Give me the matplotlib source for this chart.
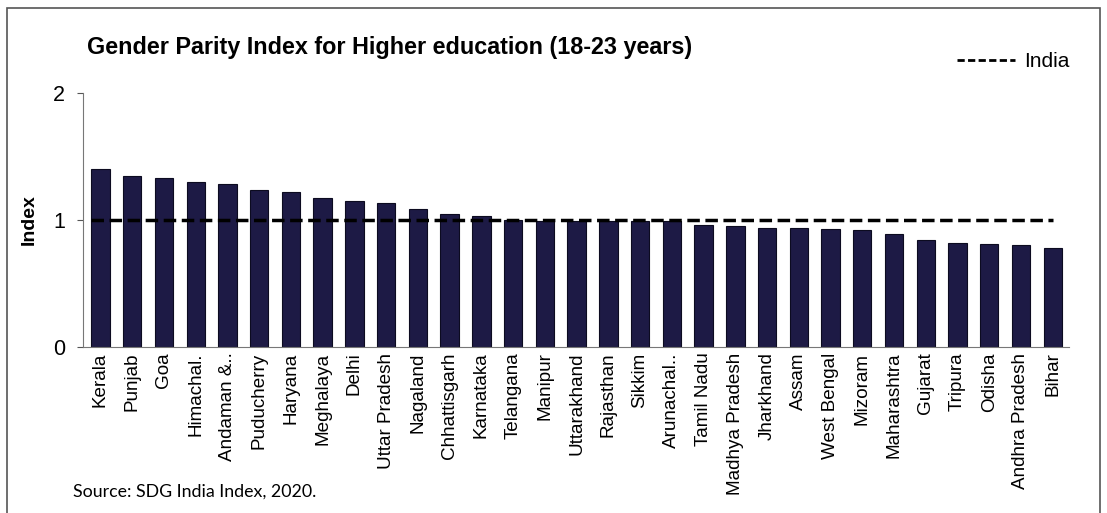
import matplotlib
matplotlib.use("Agg")
import matplotlib.pyplot as plt
from matplotlib.lines import Line2D
from matplotlib.patches import Rectangle

# =====================================================================
# 数据
# =====================================================================

states = [
    "Kerala", "Punjab", "Goa", "Himachal.", "Andaman &..", "Puducherry",
    "Haryana", "Meghalaya", "Delhi", "Uttar Pradesh", "Nagaland",
    "Chhattisgarh", "Karnataka", "Telangana", "Manipur", "Uttarakhand",
    "Rajasthan", "Sikkim", "Arunachal..", "Tamil Nadu", "Madhya Pradesh",
    "Jharkhand", "Assam", "West Bengal", "Mizoram", "Maharashtra",
    "Gujarat", "Tripura", "Odisha", "Andhra Pradesh", "Bihar",
]
gpi = [
    1.40, 1.35, 1.33, 1.30, 1.28, 1.24, 1.22, 1.17, 1.15, 1.13, 1.09,
    1.05, 1.03, 1.00, 0.99, 0.99, 0.99, 0.99, 0.99, 0.96, 0.95,
    0.94, 0.94, 0.93, 0.92, 0.89, 0.84, 0.82, 0.81, 0.80, 0.78,
]
india_gpi = 1.0

TITLE = "Gender Parity Index for Higher education (18-23 years)"
SOURCE = "Source: SDG India Index, 2020."

BAR_COLOR = "#1d1a45"
FONT = ["Liberation Sans", "DejaVu Sans"]

# =====================================================================
# 绘图
# =====================================================================

plt.rcParams["font.family"] = FONT

fig = plt.figure(figsize=(11.07, 5.13), dpi=100)
ax = fig.add_axes([0.075, 0.3236, 0.8903, 0.4951])

x = list(range(len(states)))
ax.bar(x, gpi, width=0.58, color=BAR_COLOR, edgecolor="#0c0b20", linewidth=0.8)
ax.plot([-0.3, len(states) - 1], [india_gpi, india_gpi], color="black",
        linestyle=(0, (3.6, 1.6)), linewidth=2.5)

ax.set_xlim(-0.55, len(states) - 0.5)
ax.set_ylim(0, 2)
ax.set_yticks([0, 1, 2])
ax.set_yticklabels(["0", "1", "2"], fontsize=15.5)
ax.set_xticks(x)
ax.set_xticklabels(states, rotation=90, fontsize=13.6)
ax.tick_params(axis="x", length=0, pad=4)
ax.tick_params(axis="y", length=4, pad=9, color="#555555")
ax.set_ylabel("Index", fontsize=14, fontweight="bold", labelpad=11)

for side in ["top", "right"]:
    ax.spines[side].set_visible(False)
ax.spines["left"].set_color("#777777")
ax.spines["bottom"].set_color("#777777")

fig.text(0.079, 0.907, TITLE, fontsize=16.8, fontweight="bold",
         ha="left", va="center")
fig.text(0.066, 0.041, SOURCE, fontsize=12.8, ha="left", va="center",
         family=["Lato", "DejaVu Sans"])

legend_line = Line2D([], [], color="black", linestyle=(0, (2.6, 1.2)),
                     linewidth=2)
fig.legend([legend_line], ["India"], loc="center right",
           bbox_to_anchor=(0.979, 0.88), frameon=False, fontsize=15,
           handlelength=2.8, handletextpad=0.4, borderpad=0.2)

# 外框
fig.patches.append(Rectangle((0.006, -0.05), 0.988, 1.034,
                             transform=fig.transFigure, fill=False,
                             edgecolor="#555555", linewidth=1.2))

fig.savefig("out.png", dpi=100)
